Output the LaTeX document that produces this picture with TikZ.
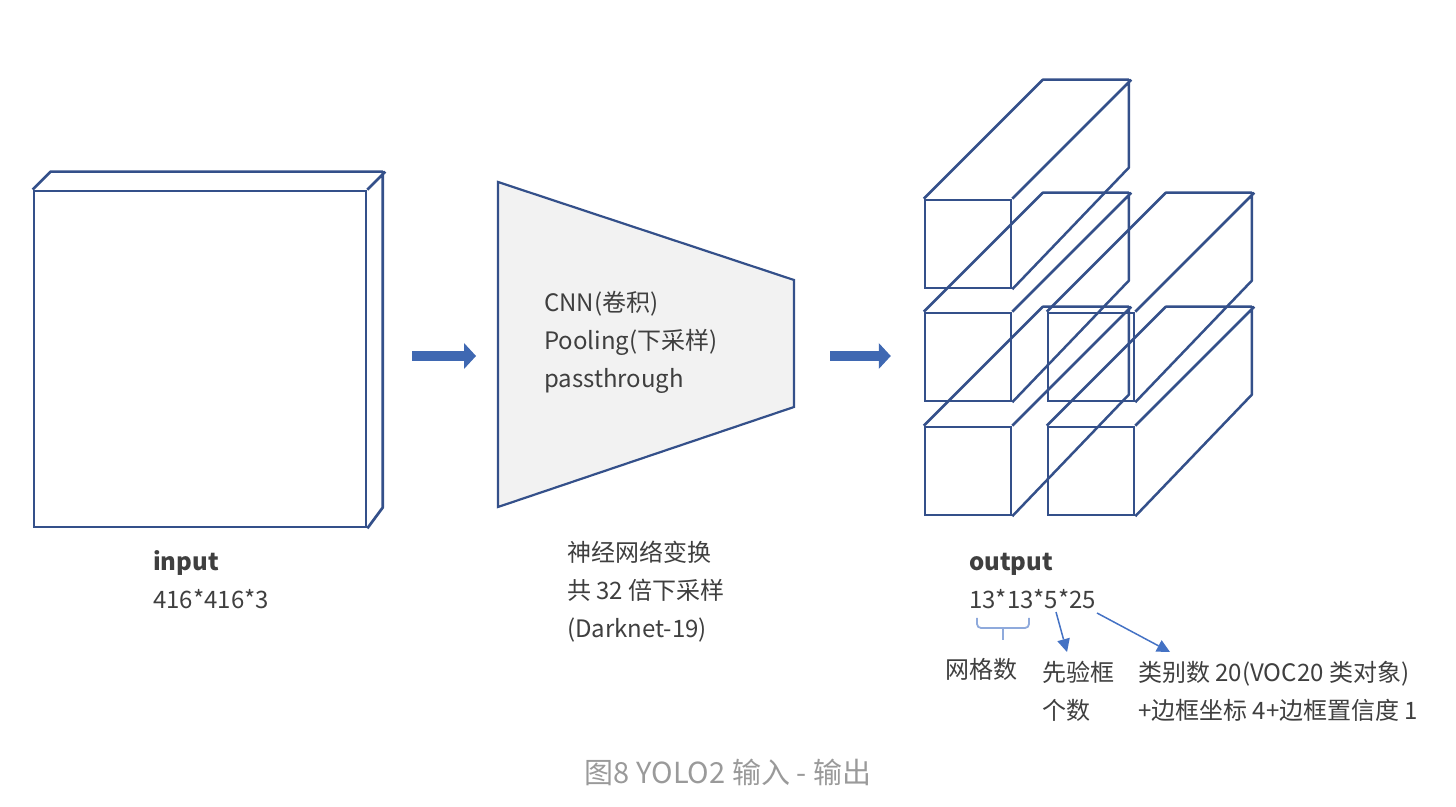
\documentclass[tikz,border=0pt]{standalone}
\usepackage{fontspec}
\setmainfont{Noto Sans CJK SC}
\usetikzlibrary{positioning,arrows.meta}
\definecolor{edgeblue}{HTML}{34508A}
\definecolor{arrowblue}{HTML}{3F68B2}
\definecolor{pointblue}{HTML}{4472C4}
\definecolor{braceblue}{HTML}{8FAADC}
\definecolor{netgray}{HTML}{F2F2F2}
\definecolor{txtgray}{HTML}{3F3F3F}
\definecolor{capgray}{HTML}{9A9A9A}
\tikzset{
	slab/.style={draw=edgeblue, line width=2.7pt, inner sep=0, minimum width=332, minimum height=336},
	slabline/.style={draw=edgeblue, line width=2.7pt, line join=round},
	cell/.style={draw=edgeblue, line width=2.5pt, inner sep=0, minimum width=86, minimum height=88},
	cellline/.style={draw=edgeblue, line width=2.5pt, line join=round},
	netshape/.style={draw=edgeblue, line width=2.2pt, fill=netgray},
	bigarrow/.style={draw=arrowblue, line width=10pt, -{Triangle[length=12pt, width=26pt, line width=0pt]}},
	pointer/.style={draw=pointblue, line width=1.5pt, -{Triangle[length=13pt, width=13pt, line width=0pt]}},
	gridbrace/.style={draw=braceblue, line width=1.8pt, rounded corners=4pt},
	txt/.style={text=txtgray, inner sep=0, align=left, anchor=west, font=\fontsize{24}{38}\selectfont},
	caption/.style={text=capgray, inner sep=0, font=\fontsize{29}{34}\selectfont},
}

\begin{document}
\begin{tikzpicture}[x=1pt, y=1pt]
	\useasboundingbox (0,0) rectangle (1456,806);

	\node[slab] (inputslab) at (200,447) {};
	\draw[slabline] (inputslab.north west) -- ++(18,18) -- ++(332,0) -- ++(0,-336) -- (inputslab.south east)
		(inputslab.north east) -- ++(18,18);
	\node[txt] (inputnote) at (153,226) {\textbf{input}\\416*416*3};

	\draw[netshape] (498,624) -- (794,526) -- (794,399) -- (498,299) -- cycle;
	\coordinate (netin) at (498,450);
	\coordinate (netout) at (794,450);
	\node[txt] (netops) at (544,464) {CNN(卷积)\\Pooling(下采样)\\passthrough};
	\node[txt] (netnote) at (567,214) {神经网络变换\\共 32 倍下采样\\(Darknet-19)};

	\foreach \n/\x/\y in {out1/968/562, out2/968/449, out3/968/335, out4/1091/449, out5/1091/335}{
		\node[cell] (\n) at (\x,\y) {};
		\draw[cellline] (\n.north west) -- ++(119,119) -- ++(86,0) -- ++(0,-88) -- (\n.south east)
			(\n.north east) -- ++(119,119);
	}

	\draw[bigarrow, shorten <=45pt, shorten >=22pt] (inputslab.east |- netin) -- (netin);
	\draw[bigarrow, shorten <=36pt, shorten >=33pt] (netout) -- (netout -| out2.west);

	\node[txt] (outputnote) at (969,225) {\textbf{output}\\13*13*5*25};
	\coordinate (gridl) at (977,188);
	\coordinate (gridr) at (1029,188);
	\coordinate (gridtip) at (1003,166);
	\coordinate (prior) at (1056,194);
	\coordinate (priortip) at (1067,154);
	\coordinate (classes) at (1097,193);
	\coordinate (classtip) at (1170,154);
	\draw[gridbrace] (gridl) |- (gridr |- 0,178) -- (gridr);
	\draw[gridbrace] (gridtip) -- (gridtip |- 0,178);
	\draw[pointer] (prior) -- (priortip);
	\draw[pointer] (classes) -- (classtip);

	\node[txt] (gridnote) at (945,137) {网格数};
	\node[txt] (priornote) at (1042,115) {先验框\\个数};
	\node[txt] (classnote) at (1138,115) {类别数 20(VOC20 类对象)\\+边框坐标 4+边框置信度 1};

	\node[caption] (figcaption) at (728,34) {图8 YOLO2 输入 - 输出};
\end{tikzpicture}
\end{document}
